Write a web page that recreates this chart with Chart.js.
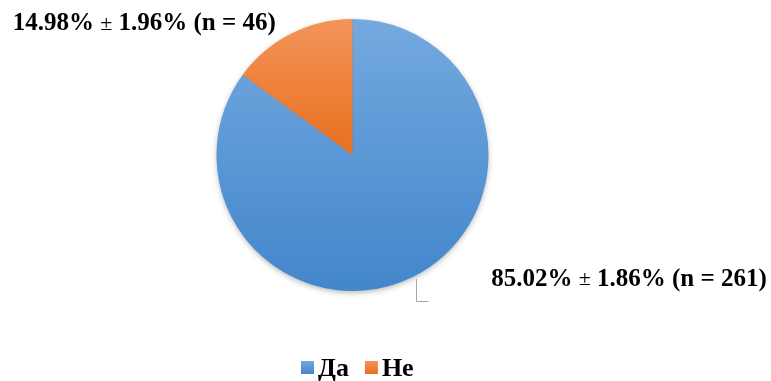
<!DOCTYPE html>
<html>
<head>
<meta charset="utf-8">
<script src="https://cdn.jsdelivr.net/npm/chart.js@4"></script>
<style>
  body { margin: 0; background: #fff; }
</style>
</head>
<body>
<canvas id="pie" width="771" height="381"></canvas>
<script>
const categories = ['Да', 'Не'];
const percentages = [85.02, 14.98];
const errors = [1.86, 1.96];
const counts = [261, 46];
const colorsTop = ['#74a9df', '#f3935b'];
const colorsBottom = ['#4286cb', '#e8701d'];

const serif = '"Liberation Serif", "Times New Roman", serif';

function sliceFill(c) {
    const i = c.dataIndex;
    const area = c.chart.chartArea;
    if (!area) return colorsTop[i];
    const mid = (area.top + area.bottom) / 2;
    const g = c.chart.ctx.createLinearGradient(0, area.top, 0, i === 0 ? area.bottom : mid);
    g.addColorStop(0, colorsTop[i]);
    g.addColorStop(1, colorsBottom[i]);
    return g;
}

// text made of bold parts and a lighter ± sign
function drawParts(ctx, parts, x, y, align) {
    let total = 0;
    parts.forEach(p => { ctx.font = p[1]; total += ctx.measureText(p[0]).width; });
    let cx = align === 'right' ? x - total : x;
    ctx.textAlign = 'left';
    ctx.textBaseline = 'middle';
    ctx.fillStyle = '#000';
    parts.forEach(p => {
        ctx.font = p[1];
        ctx.fillText(p[0], cx, y);
        cx += ctx.measureText(p[0]).width;
    });
}

function labelParts(i) {
    const bold = 'bold 25px ' + serif;
    const thin = '22px ' + serif;
    return [
        [percentages[i].toFixed(2) + '% ', bold],
        ['±', thin],
        [' ' + errors[i].toFixed(2) + '% (n = ' + counts[i] + ')', bold]
    ];
}

const pieExtras = {
    id: 'pieExtras',
    beforeDatasetsDraw(chart) {
        const arc = chart.getDatasetMeta(0).data[0];
        const ctx = chart.ctx;
        ctx.save();
        ctx.shadowColor = 'rgba(0,0,0,0.35)';
        ctx.shadowBlur = 6;
        ctx.shadowOffsetY = 2;
        ctx.fillStyle = colorsBottom[0];
        ctx.beginPath();
        ctx.arc(arc.x, arc.y, arc.outerRadius - 1, 0, Math.PI * 2);
        ctx.fill();
        ctx.restore();
    },
    afterDatasetsDraw(chart) {
        const ctx = chart.ctx;
        const arcs = chart.getDatasetMeta(0).data;
        ctx.save();

        // orange slice label, upper left
        let a = arcs[1];
        let m = (a.startAngle + a.endAngle) / 2;
        let px = a.x + Math.cos(m) * a.outerRadius;
        let py = a.y + Math.sin(m) * a.outerRadius;
        drawParts(ctx, labelParts(1), px - 15, py - 10, 'right');

        // blue slice label with leader line
        a = arcs[0];
        m = (a.startAngle + a.endAngle) / 2;
        px = a.x + Math.cos(m) * a.outerRadius;
        py = a.y + Math.sin(m) * a.outerRadius;
        const lx = Math.round(a.x + Math.cos(m) * (a.outerRadius + 3)) + 0.5;
        const ly = a.y + Math.sin(m) * (a.outerRadius + 3);
        ctx.strokeStyle = '#a6a6a6';
        ctx.lineWidth = 1;
        ctx.beginPath();
        ctx.moveTo(lx, ly);
        ctx.lineTo(lx, Math.round(py + 25) + 0.5);
        ctx.lineTo(lx + 12, Math.round(py + 25) + 0.5);
        ctx.stroke();
        drawParts(ctx, labelParts(0), px + 77, py + 3, 'left');

        // legend
        ctx.font = 'bold 26px ' + serif;
        const box = 13, gap = 4, space = 16;
        let width = 0;
        categories.forEach((c, i) => {
            width += box + gap + ctx.measureText(c).width + (i ? space : 0);
        });
        let x = Math.round(a.x + 4.5 - width / 2);
        const y = 368;
        categories.forEach((c, i) => {
            const g = ctx.createLinearGradient(0, y - 7, 0, y + 6);
            g.addColorStop(0, colorsTop[i]);
            g.addColorStop(1, colorsBottom[i]);
            ctx.fillStyle = g;
            ctx.fillRect(x, y - 7, box, box);
            x += box + gap;
            ctx.fillStyle = '#000';
            ctx.textAlign = 'left';
            ctx.textBaseline = 'middle';
            ctx.fillText(c, x, y + 1);
            x += ctx.measureText(c).width + space;
        });
        ctx.restore();
    }
};

new Chart(document.getElementById('pie'), {
    type: 'pie',
    data: {
        labels: categories,
        datasets: [{
            data: percentages,
            backgroundColor: sliceFill,
            borderWidth: 0,
            hoverOffset: 0
        }]
    },
    options: {
        responsive: false,
        animation: false,
        devicePixelRatio: 1,
        layout: { padding: { top: 19, bottom: 90, left: 0, right: 66 } },
        plugins: {
            legend: { display: false },
            tooltip: { enabled: false }
        }
    },
    plugins: [pieExtras]
});
</script>
</body>
</html>
